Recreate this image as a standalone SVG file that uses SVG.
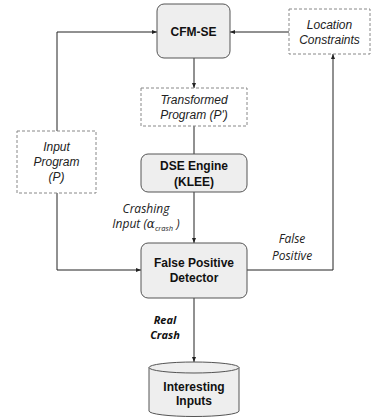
<svg xmlns="http://www.w3.org/2000/svg" width="371" height="420" viewBox="0 0 371 420">
<defs>
<marker id="ah" viewBox="0 0 10 10" refX="10" refY="5" markerWidth="5" markerHeight="5" orient="auto" markerUnits="userSpaceOnUse">
<path d="M0,1 L10,5 L0,9 z" fill="#222"/>
</marker>
<style>
.box{fill:#eeeeee;stroke:#555;stroke-width:1}
.dash{fill:#fff;stroke:#888;stroke-width:1;stroke-dasharray:3,2}
.bt{font-family:"Liberation Sans",Arial,sans-serif;font-weight:bold;font-size:12px;fill:#111;text-anchor:middle}
.it{font-family:"Liberation Sans",Arial,sans-serif;font-style:italic;font-size:12px;fill:#222;text-anchor:middle}
.ot{font-family:"Open Sans",sans-serif;font-style:italic;font-size:12px;fill:#222;text-anchor:middle}
.ob{font-family:"Open Sans",sans-serif;font-style:italic;font-weight:bold;font-size:11px;fill:#111;text-anchor:middle}
.ln{fill:none;stroke:#222;stroke-width:1}
</style>
</defs>
<rect width="371" height="420" fill="#fff"/>
<g id="connectors">
<path class="ln" d="M57,131 V32 H157" marker-end="url(#ah)"/>
<path class="ln" d="M289,32 H230" marker-end="url(#ah)"/>
<path class="ln" d="M194,58 V88" marker-end="url(#ah)"/>
<path class="ln" d="M194,126 V154"/>
<path class="ln" d="M194,192 V243" marker-end="url(#ah)"/>
<path class="ln" d="M57,193 V270 H141" marker-end="url(#ah)"/>
<path class="ln" d="M247,270 H333 V54" marker-end="url(#ah)"/>
<path class="ln" d="M194,298 V362" marker-end="url(#ah)"/>
<text class="ot" x="146" y="213">Crashing</text>
<text class="ot" x="146" y="228">Input (<tspan font-family="'DejaVu Serif',serif">α</tspan><tspan font-size="7.5" dy="3">crash</tspan><tspan dy="-3"> )</tspan></text>
<text class="ot" x="292" y="243">False</text>
<text class="ot" x="292" y="260">Positive</text>
<text class="ob" x="165" y="324">Real</text>
<text class="ob" x="165" y="339">Crash</text>
</g>
<g id="cfmse">
<rect class="box" x="157" y="4" width="73" height="54" rx="7"/>
<text class="bt" x="193.5" y="36">CFM-SE</text>
</g>
<g id="location">
<rect class="dash" x="289" y="9" width="81" height="45"/>
<text class="it" x="329.5" y="29">Location</text>
<text class="it" x="329.5" y="44">Constraints</text>
</g>
<g id="transformed">
<rect class="dash" x="141" y="88" width="106" height="38"/>
<text class="it" x="194" y="104">Transformed</text>
<text class="it" x="194" y="119">Program (P')</text>
</g>
<g id="input">
<rect class="dash" x="17" y="131" width="79" height="62"/>
<text class="it" x="56.5" y="151">Input</text>
<text class="it" x="56.5" y="166">Program</text>
<text class="it" x="56.5" y="181">(P)</text>
</g>
<g id="dse">
<rect class="box" x="141" y="154" width="106" height="38" rx="7"/>
<text class="bt" x="194" y="170">DSE Engine</text>
<text class="bt" x="194" y="186">(KLEE)</text>
</g>
<g id="fpd">
<rect class="box" x="141" y="243" width="106" height="55" rx="7"/>
<text class="bt" x="194" y="267">False Positive</text>
<text class="bt" x="194" y="282">Detector</text>
</g>
<g id="interesting">
<path class="box" d="M149,367.5 V411 A45,5.5 0 0 0 239,411 V367.5 A45,5.5 0 0 0 149,367.5 Z"/>
<path class="box" style="fill:none" d="M149,367.5 A45,5.5 0 0 0 239,367.5"/>
<text class="bt" x="194" y="391">Interesting</text>
<text class="bt" x="194" y="405">Inputs</text>
</g>
</svg>
